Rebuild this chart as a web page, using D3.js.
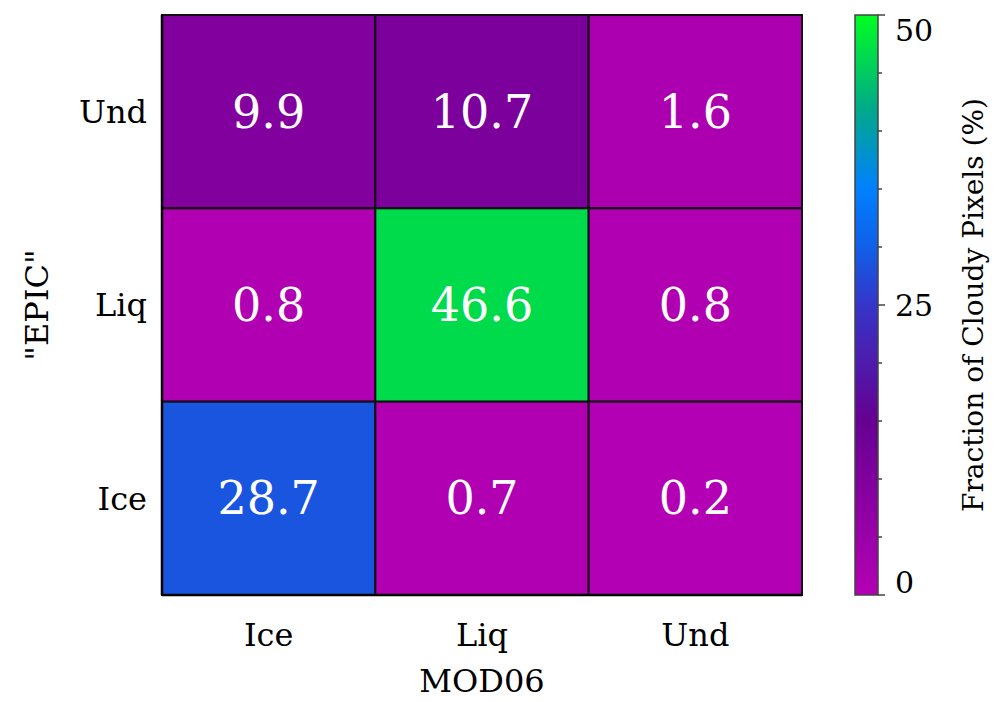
<!DOCTYPE html>
<html>
<head>
<style>
body { margin: 0; background: #fff; }
svg text { font-family: "DejaVu Serif", "Liberation Serif", serif; }
</style>
<script src="https://cdn.jsdelivr.net/npm/d3@7"></script>
</head>
<body>
<div id="chart"></div>
<script>
// MOD06 classes (x) vs "EPIC" classes (y)
var xCats = ["Ice", "Liq", "Und"];
var yCats = ["Und", "Liq", "Ice"];
// rows follow yCats, columns follow xCats
var values = [
  [9.9, 10.7, 1.6],
  [0.8, 46.6, 0.8],
  [28.7, 0.7, 0.2]
];
var cbTicks = [0, 25, 50];
var cbMinor = [5, 10, 15, 20, 30, 35, 40, 45];
var stopVals = [0, 15, 25, 30, 35, 42, 50];
var stopCols = ["#b400b4", "#660092", "#3535c8", "#1060e8", "#0080ff", "#00aa88", "#00ff20"];

var svg = d3.select("#chart").append("svg").attr("width", 998).attr("height", 702);
var L = 162, R = 802, T = 15, B = 595;

var x = d3.scaleBand().domain(xCats).range([L, R]);
var y = d3.scaleBand().domain(yCats).range([T, B]);
var color = d3.scaleLinear().domain(stopVals).range(stopCols);

var cells = [];
values.forEach(function(row, i) {
  row.forEach(function(v, j) { cells.push({r: yCats[i], c: xCats[j], v: v}); });
});

svg.selectAll("rect.cell").data(cells).enter().append("rect")
  .attr("x", d => x(d.c)).attr("y", d => y(d.r))
  .attr("width", x.bandwidth()).attr("height", y.bandwidth())
  .attr("fill", d => color(d.v)).attr("stroke", "#111").attr("stroke-width", 2);

svg.selectAll("text.val").data(cells).enter().append("text")
  .attr("x", d => x(d.c) + x.bandwidth() / 2).attr("y", d => y(d.r) + y.bandwidth() / 2)
  .attr("dy", "0.35em").attr("text-anchor", "middle")
  .attr("fill", "#fff").attr("font-size", 46)
  .text(d => d.v.toFixed(1));

// axis lines
svg.append("line").attr("x1", L).attr("x2", R).attr("y1", B).attr("y2", B).attr("stroke", "#000").attr("stroke-width", 2.5);
svg.append("line").attr("x1", L).attr("x2", L).attr("y1", T).attr("y2", B).attr("stroke", "#000").attr("stroke-width", 2.5);

svg.selectAll("text.xt").data(xCats).enter().append("text")
  .attr("x", d => x(d) + x.bandwidth() / 2).attr("y", 646)
  .attr("text-anchor", "middle").attr("font-size", 32).text(d => d);
svg.selectAll("text.yt").data(yCats).enter().append("text")
  .attr("x", 147).attr("y", d => y(d) + y.bandwidth() / 2).attr("dy", "0.35em")
  .attr("text-anchor", "end").attr("font-size", 32).text(d => d);

svg.append("text").attr("x", (L + R) / 2).attr("y", 692).attr("text-anchor", "middle")
  .attr("font-size", 32).text("MOD06");
svg.append("text").attr("transform", "translate(48," + ((T + B) / 2) + ") rotate(-90)")
  .attr("text-anchor", "middle").attr("font-size", 32).text('"EPIC"');

// colorbar
var cbX = 855, cbW = 23;
var cy = d3.scaleLinear().domain([0, 50]).range([B, T]);
var grad = svg.append("defs").append("linearGradient").attr("id", "cb")
  .attr("x1", 0).attr("y1", 1).attr("x2", 0).attr("y2", 0);
d3.range(0, 51, 1).forEach(function(v) {
  grad.append("stop").attr("offset", v / 50).attr("stop-color", color(v));
});
svg.append("rect").attr("x", cbX).attr("y", T).attr("width", cbW).attr("height", B - T)
  .attr("fill", "url(#cb)").attr("stroke", "#444").attr("stroke-width", 1.5);
svg.selectAll("line.maj").data(cbTicks).enter().append("line")
  .attr("x1", cbX + cbW).attr("x2", cbX + cbW + 7).attr("y1", d => cy(d)).attr("y2", d => cy(d))
  .attr("stroke", "#444").attr("stroke-width", 1.5);
svg.selectAll("line.min").data(cbMinor).enter().append("line")
  .attr("x1", cbX + cbW).attr("x2", cbX + cbW + 4).attr("y1", d => cy(d)).attr("y2", d => cy(d))
  .attr("stroke", "#444").attr("stroke-width", 1.5);
svg.selectAll("text.cbt").data(cbTicks).enter().append("text")
  .attr("x", 895).attr("y", d => Math.min(Math.max(cy(d), 30), 582)).attr("dy", "0.35em")
  .attr("font-size", 30).text(d => d);
svg.append("text").attr("transform", "translate(983," + ((T + B) / 2) + ") rotate(-90)")
  .attr("text-anchor", "middle").attr("font-size", 28).text("Fraction of Cloudy Pixels (%)");
</script>
</body>
</html>
